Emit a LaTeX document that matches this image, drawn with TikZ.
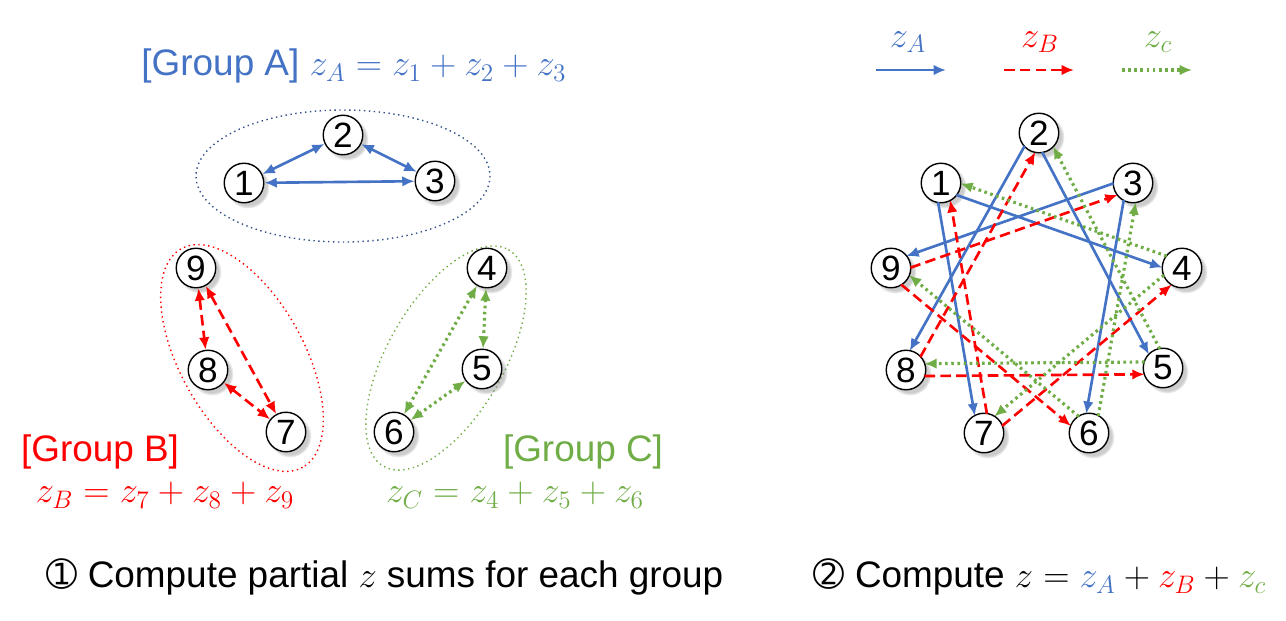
\documentclass[tikz,border=0pt]{standalone}
\usepackage{fontspec}
\setmainfont{Liberation Sans}
\newfontfamily\symfont{DejaVu Sans}
\usetikzlibrary{arrows.meta,shadows,calc}
\definecolor{cA}{HTML}{4472C4}
\definecolor{cB}{HTML}{FF0000}
\definecolor{cC}{HTML}{70AD47}
\newcommand{\offedge}[3]{\draw[#1,shorten <=10.5pt,shorten >=10.5pt] ($(#2)!3.5pt!-90:(#3)$) -- ($(#3)!3.5pt!90:(#2)$);}
\begin{document}
\begin{tikzpicture}[x=0.02cm,y=-0.02cm,
  nd/.style={circle,draw,thick,fill=white,minimum size=22.5pt,inner sep=0pt,font=\fontsize{20}{20}\selectfont,circular drop shadow={shadow xshift=2pt,shadow yshift=-2pt,opacity=0.4}},
  tip/.style={-{Latex[length=7pt,width=6pt]}},
  both/.style={{Latex[length=7pt,width=6pt]}-{Latex[length=7pt,width=6pt]}},
  ea/.style={cA,line width=1.5pt},
  eb/.style={cB,line width=1.5pt,dash pattern=on 6pt off 3pt},
  ec/.style={cC,line width=1.8pt,dash pattern=on 1.5pt off 2pt},
  lbl/.style={font=\fontsize{21}{24}\selectfont}]
\useasboundingbox (0,0) rectangle (1286,620);
% left groups
\draw[cA!70!black,dotted,thick] (343,176) ellipse [x radius=147,y radius=66];
\draw[cB,dotted,thick] (242,358) ellipse [x radius=125,y radius=62,rotate=-61];
\draw[cC,dotted,thick] (446,358) ellipse [x radius=125,y radius=58,rotate=60];
\node[nd] (a1) at (244,183) {1};
\node[nd] (a2) at (343,135) {2};
\node[nd] (a3) at (435,181) {3};
\node[nd] (a4) at (487,268) {4};
\node[nd] (a5) at (482,369) {5};
\node[nd] (a6) at (394,432) {6};
\node[nd] (a7) at (286,432) {7};
\node[nd] (a8) at (208,370) {8};
\node[nd] (a9) at (196,268) {9};
\draw[ea,both] (a1) -- (a2);
\draw[ea,both] (a2) -- (a3);
\draw[ea,both] (a1) -- (a3);
\draw[eb,both] (a9) -- (a8);
\draw[eb,both] (a9) -- (a7);
\draw[eb,both] (a8) -- (a7);
\draw[ec,both] (a4) -- (a5);
\draw[ec,both] (a4) -- (a6);
\draw[ec,both] (a5) -- (a6);
\node[lbl,cA] (tA) at (354,66) {[Group A] $z_A=z_1+z_2+z_3$};
\node[lbl,cB] (tB) at (100,452) {[Group B]};
\node[lbl,cB] (fB) at (165,495) {$z_B=z_7+z_8+z_9$};
\node[lbl,cC] (tC) at (583,452) {[Group C]};
\node[lbl,cC] (fC) at (515,495) {$z_C=z_4+z_5+z_6$};
\node[lbl] (s1) at (385,577) {{\symfont ➀} Compute partial $z$ sums for each group};
\node[lbl] (s2) at (1040,577) {{\symfont ➁} Compute $z=\textcolor{cA}{z_A}+\textcolor{cB}{z_B}+\textcolor{cC}{z_c}$};
% legend
\node[lbl,cA] (lA) at (908,42) {$z_A$};
\node[lbl,cB] (lB) at (1040,42) {$z_B$};
\node[lbl,cC] (lC) at (1158,42) {$z_c$};
\coordinate (pa1) at (876,70); \coordinate (pa2) at (946,70);
\coordinate (pb1) at (1004,70); \coordinate (pb2) at (1074,70);
\coordinate (pc1) at (1122,70); \coordinate (pc2) at (1192,70);
\draw[ea,tip] (pa1) -- (pa2);
\draw[eb,tip] (pb1) -- (pb2);
\draw[ec,tip] (pc1) -- (pc2);
% right graph
\node[nd] (b1) at (941,183) {1};
\node[nd] (b2) at (1039,133) {2};
\node[nd] (b3) at (1133,183) {3};
\node[nd] (b4) at (1182,268) {4};
\node[nd] (b5) at (1163,368) {5};
\node[nd] (b6) at (1089,433) {6};
\node[nd] (b7) at (984,433) {7};
\node[nd] (b8) at (906,370) {8};
\node[nd] (b9) at (891,268) {9};
\offedge{ea,tip}{b1}{b4} \offedge{ea,tip}{b1}{b7}
\offedge{ea,tip}{b2}{b8} \offedge{ea,tip}{b2}{b5}
\offedge{ea,tip}{b3}{b9} \offedge{ea,tip}{b3}{b6}
\offedge{eb,tip}{b9}{b3} \offedge{eb,tip}{b9}{b6}
\offedge{eb,tip}{b8}{b2} \offedge{eb,tip}{b8}{b5}
\offedge{eb,tip}{b7}{b1} \offedge{eb,tip}{b7}{b4}
\offedge{ec,tip}{b4}{b1} \offedge{ec,tip}{b4}{b7}
\offedge{ec,tip}{b5}{b2} \offedge{ec,tip}{b5}{b8}
\offedge{ec,tip}{b6}{b3} \offedge{ec,tip}{b6}{b9}
\end{tikzpicture}
\end{document}
